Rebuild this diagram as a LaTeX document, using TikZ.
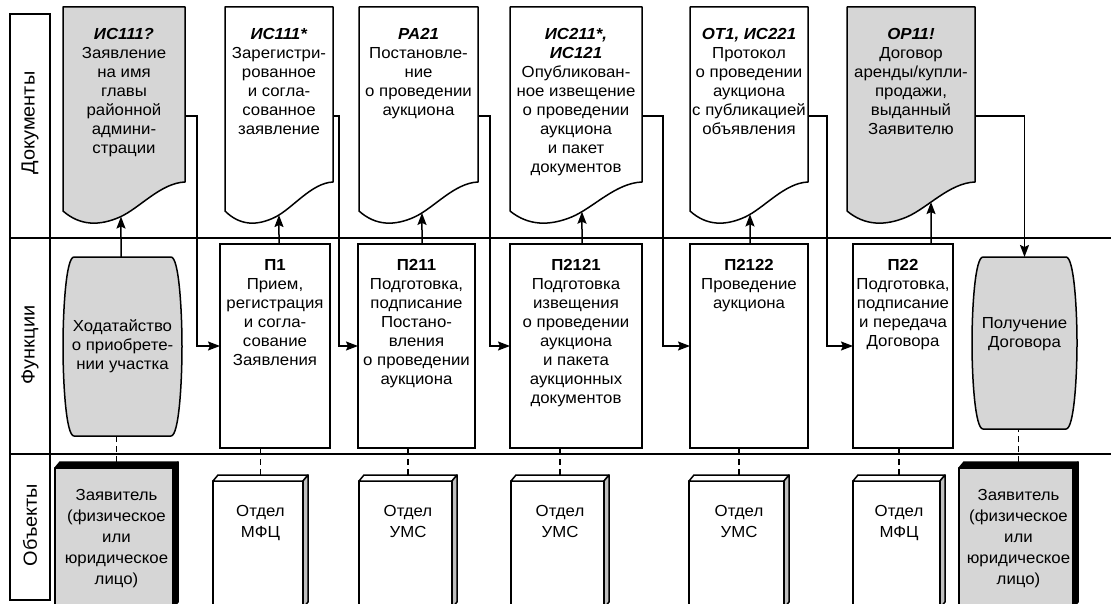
\documentclass[tikz,border=0pt]{standalone}
\usepackage{fontspec}
\setmainfont{Liberation Sans}[FakeStretch=1.05]
\usetikzlibrary{arrows.meta,intersections,positioning}

\tikzset{
  ln/.style={line width=1.6pt},
  area/.style={draw=none, inner sep=0pt, outer sep=0pt, rectangle},
  shp/.style={draw, line width=1.5pt, line join=round},
  fbox/.style={draw, fill=white, line width=1.5pt, inner sep=0pt, outer sep=0pt, rectangle},
  arr/.style={line width=1.5pt, -{Stealth[length=12pt,width=9pt,inset=2pt]}},
  dsh/.style={line width=1.5pt, dash pattern=on 6pt off 4pt},
  txt/.style={align=center, inner sep=0pt, font=\fontsize{16}{19}\selectfont},
  otxt/.style={align=center, inner sep=0pt, font=\fontsize{16}{21}\selectfont},
  lab/.style={inner sep=0pt, rotate=90, font=\fontsize{19}{22}\selectfont},
  gfill/.style={fill=black!16},
}

% document shape: name, x1, x2, fill
\newcommand\mydoc[4]{%
  \pgfmathsetmacro\dw{#3-#2}%
  \pgfmathsetmacro\dca{#2+0.14*\dw}%
  \pgfmathsetmacro\dcb{#2+0.30*\dw}%
  \pgfmathsetmacro\dcc{#2+0.467*\dw}%
  \pgfmathsetmacro\dcd{#2+0.63*\dw}%
  \pgfmathsetmacro\dce{#2+0.80*\dw}%
  \pgfmathsetmacro\dcx{(#2+#3)/2}%
  \node[area, minimum width=\dw pt, minimum height=218pt] (#1) at (\dcx,116) {};%
  \draw[shp, fill=#4, name path=#1w] (#2,7) -- (#3,7) -- (#3,182)
     .. controls (\dce,183) and (\dcd,208) .. (\dcc,217)
     .. controls (\dcb,226) and (\dca,226) .. (#2,211) -- cycle;}

% barrel shape: name, x1, x2, y1, y2
\newcommand\mybarrel[5]{%
  \pgfmathsetmacro\bw{#3-#2}\pgfmathsetmacro\bh{#5-#4}%
  \pgfmathsetmacro\bcx{(#2+#3)/2}\pgfmathsetmacro\bcy{(#4+#5)/2}%
  \pgfmathsetmacro\bta{#4+0.3*\bh}\pgfmathsetmacro\btb{#5-0.3*\bh}%
  \node[area, minimum width=\bw pt, minimum height=\bh pt] (#1) at (\bcx,\bcy) {};%
  \draw[shp, gfill] (#2+11,#4) -- (#3-11,#4)
     .. controls (#3-3,#4) and (#3,\bta) .. (#3,\bcy)
     .. controls (#3,\btb) and (#3-3,#5) .. (#3-11,#5) -- (#2+11,#5)
     .. controls (#2+3,#5) and (#2,\btb) .. (#2,\bcy)
     .. controls (#2,\bta) and (#2+3,#4) .. cycle;}

% object (3d box): name, x1, x2, ytop, front fill, top fill, side fill
\newcommand\myobj[7]{%
  \pgfmathsetmacro\ow{#3-#2}\pgfmathsetmacro\oh{604-#4}%
  \pgfmathsetmacro\ocx{(#2+#3)/2}\pgfmathsetmacro\ocy{(#4+604)/2}%
  \node[area, minimum width=\ow pt, minimum height=\oh pt] (#1) at (\ocx,\ocy) {};%
  \draw[shp, fill=#5] (#2,#4+6) rectangle (#3-5,608);
  \draw[shp, fill=#6] (#2,#4+6) -- (#2+5,#4) -- (#3,#4) -- (#3-5,#4+6) -- cycle;
  \draw[shp, fill=#7] (#3-5,#4+6) -- (#3,#4) -- (#3,602) -- (#3-5,608) -- cycle;}

% arrow from function to document wave: doc name, function node, xshift
\newcommand\uparr[3]{%
  \path[name path=vln] ([xshift=#3pt]#2.north) -- ++(0,-110);%
  \draw[arr, name intersections={of=#1w and vln, by=tipc}] ([xshift=#3pt]#2.north) -- (tipc);}

\begin{document}
\begin{tikzpicture}[x=1pt,y=-1pt]
\useasboundingbox (0,0) rectangle (1111,604);

% lanes
\draw[ln] (10,14) rectangle (50,600);
\draw[ln] (10,238) -- (1111,238);
\draw[ln] (10,454) -- (1111,454);
\node[lab] (lb1) at (30,123) {Документы};
\node[lab] (lb2) at (30,345) {Функции};
\node[lab] (lb3) at (30,525) {Объекты};

% documents
\mydoc{d1}{63}{185}{black!16}
\mydoc{d2}{225}{333}{white}
\mydoc{d3}{359}{478}{white}
\mydoc{d4}{510}{642}{white}
\mydoc{d5}{690}{808}{white}
\mydoc{d6}{847}{975}{black!16}

\node[txt, below=21pt of d1.north] (td1) {\textbf{\textit{ИС111?}}\\Заявление\\на имя\\главы\\районной\\админи-\\страции};
\node[txt, below=21pt of d2.north] (td2) {\textbf{\textit{ИС111*}}\\Зарегистри-\\рованное\\и согла-\\сованное\\заявление};
\node[txt, below=21pt of d3.north] (td3) {\textbf{\textit{РА21}}\\Постановле-\\ние\\о проведении\\аукциона};
\node[txt, below=21pt of d4.north] (td4) {\textbf{\textit{ИС211*,}}\\\textbf{\textit{ИС121}}\\Опубликован-\\ное извещение\\о проведении\\аукциона\\и пакет\\документов};
\node[txt, below=21pt of d5.north] (td5) {\textbf{\textit{ОТ1, ИС221}}\\Протокол\\о проведении\\аукциона\\с публикацией\\объявления};
\node[txt, below=21pt of d6.north] (td6) {\textbf{\textit{ОР11!}}\\Договор\\аренды/купли-\\продажи,\\выданный\\Заявителю};

% functions
\mybarrel{h1}{63}{182}{257}{436}
\node[fbox, minimum width=110pt, minimum height=204pt] (p1) at (275,346) {};
\node[fbox, minimum width=117pt, minimum height=204pt] (p211) at (416.5,346) {};
\node[fbox, minimum width=132pt, minimum height=204pt] (p2121) at (576,346) {};
\node[fbox, minimum width=118pt, minimum height=204pt] (p2122) at (749,346) {};
\node[fbox, minimum width=100pt, minimum height=204pt] (p22) at (903,346) {};
\mybarrel{g2}{972}{1077}{257}{429}

\node[txt] (th1) at (h1.center) {Ходатайство\\о приобрете-\\нии участка};
\node[txt, below=15pt of p1.north] (tp1) {\textbf{П1}\\Прием,\\регистрация\\и согла-\\сование\\Заявления};
\node[txt, below=15pt of p211.north] (tp211) {\textbf{П211}\\Подготовка,\\подписание\\Постано-\\вления\\о проведении\\аукциона};
\node[txt, below=15pt of p2121.north] (tp2121) {\textbf{П2121}\\Подготовка\\извещения\\о проведении\\аукциона\\и пакета\\аукционных\\документов};
\node[txt, below=15pt of p2122.north] (tp2122) {\textbf{П2122}\\Проведение\\аукциона};
\node[txt, below=15pt of p22.north] (tp22) {\textbf{П22}\\Подготовка,\\подписание\\и передача\\Договора};
\node[txt] (tg2) at ([yshift=9pt]g2.center) {Получение\\Договора};

% objects
\myobj{o1}{55}{178}{462}{black!16}{black}{black}
\myobj{o2}{213}{308}{475}{white}{white}{black!25}
\myobj{o3}{359}{457}{475}{white}{white}{black!25}
\myobj{o4}{511}{609}{475}{white}{white}{black!25}
\myobj{o5}{689}{789}{475}{white}{white}{black!25}
\myobj{o6}{853}{945}{475}{white}{white}{black!25}
\myobj{o7}{959}{1078}{462}{black!16}{black}{black}

\node[otxt, below=27pt of o1.north] (to1) {Заявитель\\(физическое\\или\\юридическое\\лицо)};
\node[otxt, below=30pt of o2.north] (to2) {Отдел\\МФЦ};
\node[otxt, below=30pt of o3.north] (to3) {Отдел\\УМС};
\node[otxt, below=30pt of o4.north] (to4) {Отдел\\УМС};
\node[otxt, below=30pt of o5.north] (to5) {Отдел\\УМС};
\node[otxt, below=30pt of o6.north] (to6) {Отдел\\МФЦ};
\node[otxt, below=27pt of o7.north] (to7) {Заявитель\\(физическое\\или\\юридическое\\лицо)};

% arrows function -> document
\uparr{d1}{h1}{-1.5}
\uparr{d2}{p1}{4}
\uparr{d3}{p211}{5.5}
\uparr{d4}{p2121}{6}
\uparr{d5}{p2122}{1}
\uparr{d6}{p22}{28}

% arrows document -> next function
\draw[arr] (d1.east) -| ([xshift=-23pt]p1.west) -- (p1.west);
\draw[arr] (d2.east) -| ([xshift=-19pt]p211.west) -- (p211.west);
\draw[arr] (d3.east) -| ([xshift=-20pt]p2121.west) -- (p2121.west);
\draw[arr] (d4.east) -| ([xshift=-27pt]p2122.west) -- (p2122.west);
\draw[arr] (d5.east) -| ([xshift=-26pt]p22.west) -- (p22.west);
\draw[arr] (d6.east) -| (g2.north);

% dashed links function - object
\draw[dsh] (o1.north) -- (o1.north |- h1.south);
\draw[dsh] (o2.north) -- (o2.north |- p1.south);
\draw[dsh] (o3.north) -- (o3.north |- p211.south);
\draw[dsh] (o4.north) -- (o4.north |- p2121.south);
\draw[dsh] (o5.north) -- (o5.north |- p2122.south);
\draw[dsh] (o6.north) -- (o6.north |- p22.south);
\draw[dsh] (o7.north) -- (o7.north |- g2.south);
\end{tikzpicture}
\end{document}
